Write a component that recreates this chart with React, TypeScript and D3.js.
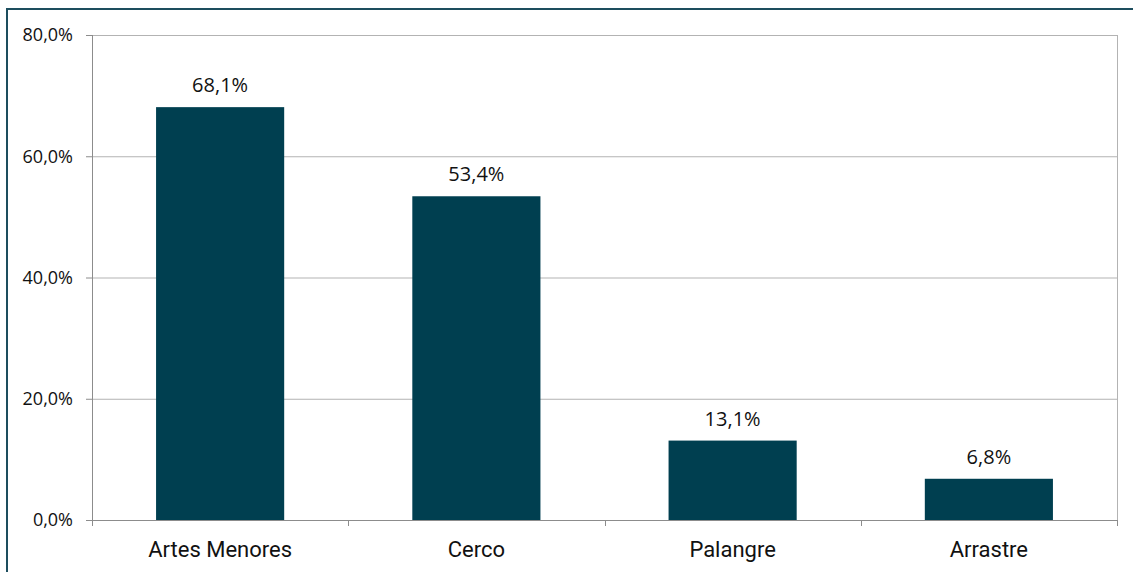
import { useEffect, useRef } from "react";
import * as d3 from "d3";

const categories = ["Artes Menores", "Cerco", "Palangre", "Arrastre"];
const values = [68.1, 53.4, 13.1, 6.8];
const yTicks = [0, 20, 40, 60, 80];

const fmt = (v: number, digits: number) => v.toFixed(digits).replace(".", ",") + "%";

export default function App() {
  const svgRef = useRef<SVGSVGElement | null>(null);

  useEffect(() => {
    if (!svgRef.current) return;
    const svg = d3.select(svgRef.current);
    svg.selectAll("*").remove();

    const width = 1133;
    const height = 572;
    const margin = { top: 35, right: 16, bottom: 52, left: 92 };
    const innerWidth = width - margin.left - margin.right;
    const innerHeight = height - margin.top - margin.bottom;

    // outer frame (right/bottom edges fall outside the picture)
    svg
      .append("rect")
      .attr("x", 7)
      .attr("y", 9)
      .attr("width", width + 10)
      .attr("height", height + 10)
      .attr("fill", "#fff")
      .attr("stroke", "#1d4e5e")
      .attr("stroke-width", 2);

    const g = svg
      .append("g")
      .attr("transform", `translate(${margin.left},${margin.top})`);

    const x = d3.scaleBand<string>().domain(categories).range([0, innerWidth]).paddingInner(0.5).paddingOuter(0.25);
    const xEdges = d3.scaleLinear().domain([0, categories.length]).range([0, innerWidth]);
    const y = d3.scaleLinear().domain([0, 80]).range([innerHeight, 0]);

    // gridlines
    g.selectAll(".grid")
      .data(yTicks.filter((t) => t > 0))
      .join("line")
      .attr("x1", 0)
      .attr("x2", innerWidth)
      .attr("y1", (d) => y(d) + 0.5)
      .attr("y2", (d) => y(d) + 0.5)
      .attr("stroke", "#b3b3b3")
      .attr("stroke-width", 1);

    // right border of plot area
    g.append("line")
      .attr("x1", innerWidth + 0.5)
      .attr("x2", innerWidth + 0.5)
      .attr("y1", 0)
      .attr("y2", innerHeight)
      .attr("stroke", "#b3b3b3")
      .attr("stroke-width", 1);

    // bars
    g.selectAll(".bar")
      .data(values)
      .join("rect")
      .attr("x", (_, i) => x(categories[i]) ?? 0)
      .attr("y", (d) => y(d))
      .attr("width", x.bandwidth())
      .attr("height", (d) => innerHeight - y(d))
      .attr("fill", "#003f50");

    // value labels
    g.selectAll(".val")
      .data(values)
      .join("text")
      .attr("x", (_, i) => (x(categories[i]) ?? 0) + x.bandwidth() / 2)
      .attr("y", (d) => y(d) - 15)
      .attr("text-anchor", "middle")
      .attr("font-family", "'Open Sans', sans-serif")
      .attr("font-size", 20)
      .attr("fill", "#111")
      .text((d) => fmt(d, 1));

    // y axis
    g.append("line")
      .attr("x1", 0.5)
      .attr("x2", 0.5)
      .attr("y1", 0)
      .attr("y2", innerHeight)
      .attr("stroke", "#8c8c8c");
    g.selectAll(".ytick")
      .data(yTicks)
      .join("line")
      .attr("x1", -6)
      .attr("x2", 0)
      .attr("y1", (d) => y(d) + 0.5)
      .attr("y2", (d) => y(d) + 0.5)
      .attr("stroke", "#8c8c8c");
    g.selectAll(".ylab")
      .data(yTicks)
      .join("text")
      .attr("x", -19)
      .attr("y", (d) => y(d))
      .attr("dy", "0.35em")
      .attr("text-anchor", "end")
      .attr("font-family", "'Open Sans', sans-serif")
      .attr("font-size", 18)
      .attr("fill", "#111")
      .text((d) => fmt(d, 1));

    // x axis
    g.append("line")
      .attr("x1", 0)
      .attr("x2", innerWidth)
      .attr("y1", innerHeight + 0.5)
      .attr("y2", innerHeight + 0.5)
      .attr("stroke", "#8c8c8c");
    g.selectAll(".xtick")
      .data(d3.range(categories.length + 1))
      .join("line")
      .attr("x1", (d) => Math.round(xEdges(d)) + 0.5)
      .attr("x2", (d) => Math.round(xEdges(d)) + 0.5)
      .attr("y1", innerHeight)
      .attr("y2", innerHeight + 6)
      .attr("stroke", "#8c8c8c");
    g.selectAll(".xlab")
      .data(categories)
      .join("text")
      .attr("x", (d) => (x(d) ?? 0) + x.bandwidth() / 2)
      .attr("y", innerHeight + 29)
      .attr("dy", "0.35em")
      .attr("text-anchor", "middle")
      .attr("font-family", "Roboto, sans-serif")
      .attr("font-size", 22)
      .attr("fill", "#111")
      .text((d) => d);
  }, []);

  return (
    <svg
      ref={svgRef}
      width={1133}
      height={572}
      style={{ position: "absolute", left: 0, top: 0, display: "block", background: "#fff" }}
    />
  );
}
